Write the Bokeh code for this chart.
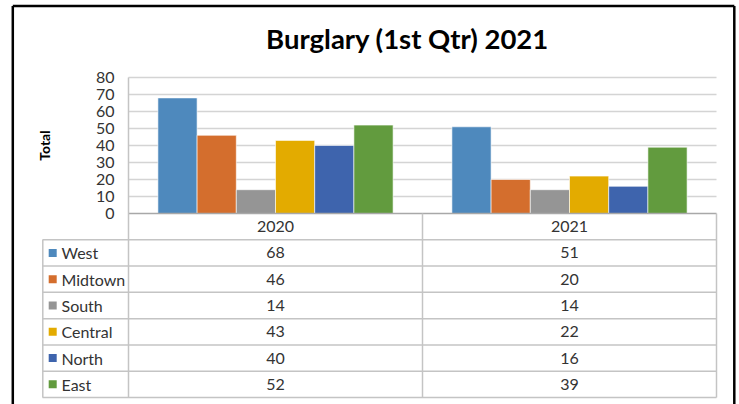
import math
from bokeh.plotting import figure
from bokeh.models import Range1d
from bokeh.core.properties import value
from bokeh.embed import file_html
from bokeh.resources import INLINE

# ---------------- data ----------------
title_text = "Burglary (1st Qtr) 2021"
y_label = "Total"
years = ["2020", "2021"]
series = ["West", "Midtown", "South", "Central", "North", "East"]
values_2020 = [68, 46, 14, 43, 40, 52]
values_2021 = [51, 20, 14, 22, 16, 39]
y_ticks = [0, 10, 20, 30, 40, 50, 60, 70, 80]
colors = ["#4e89bd", "#d46e2d", "#959595", "#e3ab00", "#3e64ad", "#629b3e"]

# ---------------- layout (pixels of the picture) ----------------
W, H = 739, 404
OFF = 0
PX0, PX1 = 128, 716           # plot area left/right (image px)
PY0, PY80 = 213, 77           # y of 0 and of 80
PX_PER_CAT = (PX1 - PX0) / 2.0
PX_PER_UNIT = (PY0 - PY80) / 80.0

def dx(px):
    return (px - PX0) / PX_PER_CAT

def dy(py):
    return (PY0 - py) / PX_PER_UNIT

FONT = "Lato"
GRID = "#d4d4d4"
TABLE = "#c4c4c4"
TXT = "#333333"

p = figure(width=W, height=H, output_backend="svg", toolbar_location=None,
           x_range=Range1d(dx(OFF), dx(OFF + W)),
           y_range=Range1d(dy(OFF + H), dy(OFF)),
           min_border=0, x_axis_location=None, y_axis_location=None)
p.grid.visible = False
p.outline_line_color = None
p.background_fill_color = "white"
p.border_fill_color = "white"

# gridlines
gl = [t for t in y_ticks if t > 0]
p.segment(x0=[0] * len(gl), x1=[2] * len(gl), y0=gl, y1=gl,
          line_color=GRID, line_width=1.5)

# bars
n = len(series)
group_w = 0.8
bw = group_w / n
for yi, vals in enumerate([values_2020, values_2021]):
    xs = [yi + 0.5 - group_w / 2 + bw * (i + 0.5) for i in range(n)]
    p.vbar(x=xs, top=vals, bottom=0, width=bw, fill_color=colors,
           line_color="white", line_width=0.6)

# axis line (0)
p.segment(x0=[0], x1=[2], y0=[0], y1=[0], line_color="#a8a8a8", line_width=1.5)

# y tick labels
p.text(x=[dx(114)] * len(y_ticks), y=y_ticks, text=[str(t) for t in y_ticks],
       text_align="right", text_baseline="middle", text_font=value(FONT),
       text_font_size="16px", text_color=TXT)

# y axis title
p.text(x=[dx(44)], y=[dy(145)], text=[y_label], angle=math.pi / 2,
       text_align="center", text_baseline="middle", text_font=value(FONT),
       text_font_size="14px", text_font_style="bold", text_color="black")

# title
p.text(x=[dx(407)], y=[dy(38)], text=[title_text], text_align="center",
       text_baseline="middle", text_font=value(FONT), text_font_size="27.5px",
       text_font_style="bold", text_color="black")

# ---------------- data table ----------------
row_top = 239.3
row_bot = 397.0
rh = (row_bot - row_top) / n
hline_y = [row_top + rh * i for i in range(n + 1)]
p.segment(x0=[dx(42)] * len(hline_y), x1=[2] * len(hline_y),
          y0=[dy(v) for v in hline_y], y1=[dy(v) for v in hline_y],
          line_color=TABLE, line_width=1.5)
# vertical lines
p.segment(x0=[dx(42.3)], x1=[dx(42.3)], y0=[dy(row_top)], y1=[dy(row_bot)],
          line_color=TABLE, line_width=1.5)
p.segment(x0=[0, 1, 2], x1=[0, 1, 2], y0=[dy(PY80), dy(PY0), dy(PY0)],
          y1=[dy(row_bot)] * 3, line_color=TABLE, line_width=1.5)

# header
p.text(x=[0.5, 1.5], y=[dy(226)] * 2, text=years, text_align="center",
       text_baseline="middle", text_font=value(FONT), text_font_size="16px",
       text_color=TXT)

row_c = [dy(row_top + rh * (i + 0.5)) for i in range(n)]
# legend swatches
sw = 8.0
p.rect(x=[dx(52.2)] * n, y=row_c, width=sw / PX_PER_CAT, height=sw / PX_PER_UNIT,
       fill_color=colors, line_color=None)
p.text(x=[dx(61)] * n, y=row_c, text=series, text_align="left",
       text_baseline="middle", text_font=value(FONT), text_font_size="16px",
       text_color=TXT)
# values
p.text(x=[0.5] * n, y=row_c, text=[str(v) for v in values_2020],
       text_align="center", text_baseline="middle", text_font=value(FONT),
       text_font_size="16px", text_color=TXT)
p.text(x=[1.5] * n, y=row_c, text=[str(v) for v in values_2021],
       text_align="center", text_baseline="middle", text_font=value(FONT),
       text_font_size="16px", text_color=TXT)

# outer black frame (left, top, right)
p.segment(x0=[dx(12.3), dx(12.3), dx(733.8)], x1=[dx(12.3), dx(733.8), dx(733.8)],
          y0=[dy(H + 2), dy(5.5), dy(5.5)], y1=[dy(5.5), dy(5.5), dy(H + 2)],
          line_color="black", line_width=2.5)

open("out.html", "w").write(file_html(p, INLINE))
